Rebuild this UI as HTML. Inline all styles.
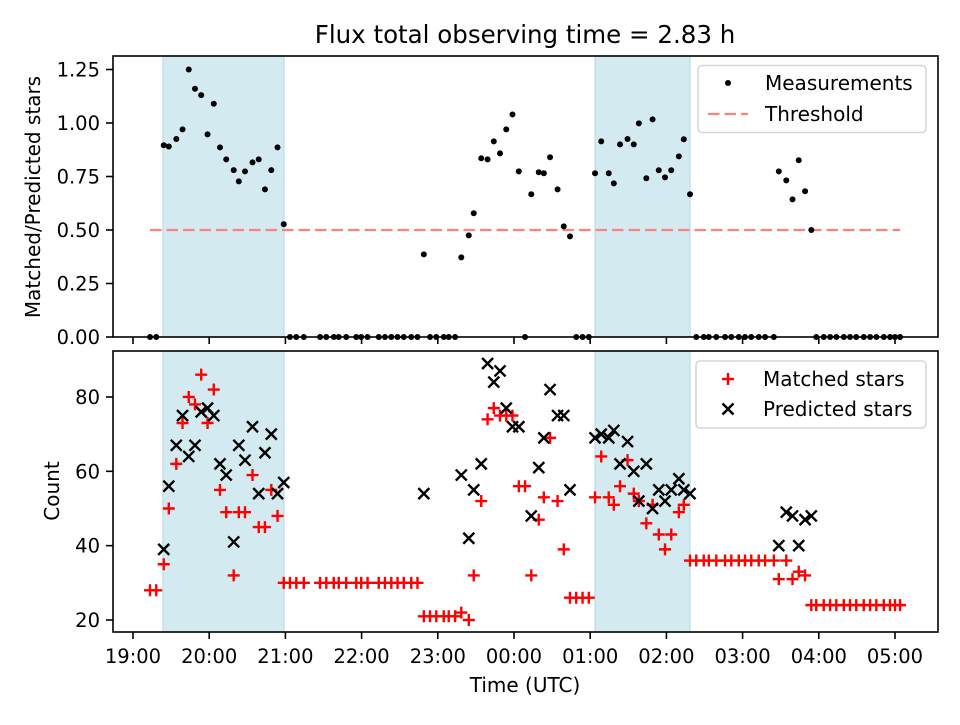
<!DOCTYPE html>
<html><head><meta charset="utf-8"><style>
html,body{margin:0;padding:0;background:#fff}
svg text{font-family:"DejaVu Sans","Liberation Sans",sans-serif;fill:#000}
</style></head><body>
<svg id="chart" width="960" height="720" viewBox="0 0 960 720" xmlns="http://www.w3.org/2000/svg">
<rect width="960" height="720" fill="#fff"/>
<g id="top"></g><g id="bot"></g>
</svg>
<script>
// minutes since 19:00 UTC
const times = [13.4,18.3,24.2,28.2,34.1,39,43.9,48.8,53.7,58.7,63.6,68.5,73.4,79.3,83.3,88.2,94.1,99,103.9,108.9,113.8,118.7,
123.6,128.6,134.5,147.3,152.2,158.1,162,167.9,175.8,179.7,184.7,193.5,198.4,203.4,208.3,213.2,219.1,224,
229,233.9,238.8,244.7,248.6,253.6,258.5,264.4,268.3,274.2,279.2,284.1,289,293.9,298.8,303.8,308.7,313.6,319.5,323.5,328.4,334.3,339.2,344.1,
349,354,358.9,363.8,368.7,374.6,378.6,383.5,389.4,394.3,398.3,404.2,409.1,414,418.9,423.8,429.8,433.7,438.6,
443.5,449.4,453.4,459.3,466.2,471.1,477,481.9,486.8,492.7,497.7,504.6,508.5,514.4,519.3,524.2,529.2,534.1,
538,543.9,548.9,553.8,559.7,564.6,569.5,575.4,580.4,585.3,591.2,596.1,600,604];
const matched = [28,28,35,50,62,73,80,78,86,73,82,55,49,32,49,49,59,45,45,55,48,30,
30,30,30,30,30,30,30,30,30,30,30,30,30,30,30,30,30,30,
21,21,21,21,21,21,22,20,32,52,74,77,75,75,75,56,56,32,47,53,69,52,39,26,
26,26,26,53,64,53,51,56,63,54,52,46,51,43,39,43,49,51,36,
36,36,36,36,36,36,36,36,36,36,36,36,31,36,31,33,32,24,
24,24,24,24,24,24,24,24,24,24,24,24,24,24];
const predicted = [null,null,39,56,67,75,64,67,76,77,75,62,59,41,67,63,72,54,65,70,54,57,
null,null,null,null,null,null,null,null,null,null,null,null,null,null,null,null,null,null,
54,null,null,null,null,null,59,42,55,62,89,84,87,77,72,72,null,48,61,69,82,75,75,55,
null,null,null,69,70,69,71,62,68,60,52,62,50,55,52,55,58,55,54,
null,null,null,null,null,null,null,null,null,null,null,null,40,49,48,40,47,48,
null,null,null,null,null,null,null,null,null,null,null,null,null,null];
const ratio = [0,0,0.896,0.89,0.925,0.97,1.25,1.16,1.13,0.947,1.09,0.886,0.83,0.78,0.727,0.774,0.816,0.83,0.69,0.78,0.886,0.527,
0,0,0,0,0,0,0,0,0,0,0,0,0,0,0,0,0,0,
0.386,0,0,0,0,0,0.372,0.475,0.578,0.835,0.83,0.914,0.858,0.97,1.04,0.774,0,0.667,0.77,0.765,0.84,0.69,0.517,0.47,
0,0,0,0.765,0.914,0.765,0.718,0.9,0.925,0.9,0.998,0.742,1.017,0.779,0.746,0.779,0.844,0.924,0.667,
0,0,0,0,0,0,0,0,0,0,0,0,0.774,0.732,0.643,0.826,0.681,0.5,
0,0,0,0,0,0,0,0,0,0,0,0,0,0];
const threshold = 0.5;
const thresholdSpan = [13.4,604];
const shadedSpans = [[23.6,118.9],[363.8,438.6]];
const xTickLabels = ["19:00","20:00","21:00","22:00","23:00","00:00","01:00","02:00","03:00","04:00","05:00"];
const topTicks = [0,0.25,0.5,0.75,1.0,1.25];
const botTicks = [20,40,60,80];

const NS="http://www.w3.org/2000/svg";
const L=113,R=938;
const xS=m=>133+m*1.27;
const topY=v=>337-v*214;
const botY=v=>620-(v-20)*3.717;
function mk(tag,attrs,parent){const e=document.createElementNS(NS,tag);for(const k in attrs)e.setAttribute(k,attrs[k]);parent.appendChild(e);return e;}
const gT=document.getElementById('top'), gB=document.getElementById('bot');

function panel(g,y0,y1,yTicks,yF,fmt,showX){
  shadedSpans.forEach(s=>{
    const r=mk('rect',{x:xS(s[0]),y:y0,width:xS(s[1])-xS(s[0]),height:y1-y0,fill:'#d4eaf1',stroke:'#bcdbe5','stroke-width':1.2},g);
    
    
  });
  xTickLabels.forEach((t,i)=>{
    const x=xS(i*60);
    const tk=mk('line',{x1:x,x2:x,y1:y1,y2:y1+7,stroke:'#000','stroke-width':1.6},g);
    
    
    if(showX){const tx=mk('text',{x:x,y:y1+31,'text-anchor':'middle','font-size':'19.5'},g);tx.textContent=t;
      
      }
  });
  yTicks.forEach(v=>{
    const y=yF(v);
    const tk=mk('line',{x1:L-7,x2:L,y1:y,y2:y,stroke:'#000','stroke-width':1.6},g);
    
    
    const tx=mk('text',{x:L-13,y:y+7,'text-anchor':'end','font-size':'19.5'},g);tx.textContent=fmt(v);
    
    
  });
}
panel(gT,56,337,topTicks,topY,v=>v.toFixed(2),false);
panel(gB,351,632,botTicks,botY,v=>String(v),true);

const th=mk('line',{x1:xS(thresholdSpan[0]),x2:xS(thresholdSpan[1]),y1:topY(threshold),y2:topY(threshold),stroke:'#ff8080','stroke-width':2.3,'stroke-dasharray':'11.5 5'},gT);


times.forEach((t,i)=>{
  const c=mk('circle',{cx:xS(t),cy:topY(ratio[i]),r:3,fill:'#000'},gT);
  
  
});
times.forEach((t,i)=>{
  const x=xS(t),y=botY(matched[i]);
  const p=mk('path',{d:`M${x-6},${y}H${x+6}M${x},${y-6}V${y+6}`,stroke:'#ff0000','stroke-width':2.4,fill:'none'},gB);
  
  
});
times.forEach((t,i)=>{
  if(predicted[i]===null)return;
  const x=xS(t),y=botY(predicted[i]);
  const p=mk('path',{d:`M${x-5.5},${y-5.5}L${x+5.5},${y+5.5}M${x-5.5},${y+5.5}L${x+5.5},${y-5.5}`,stroke:'#000','stroke-width':2.4,fill:'none'},gB);
  
  
});
[[gT,56,337],[gB,351,632]].forEach(a=>{
  const f=mk('rect',{x:L,y:a[1],width:R-L,height:a[2]-a[1],fill:'none',stroke:'#000','stroke-width':1.6},a[0]);
  
  
});
</script>
<svg style="position:absolute;left:0;top:0" width="960" height="720">
<text x="525" y="43" text-anchor="middle" font-size="24.5">Flux total observing time = 2.83 h</text>
<text transform="translate(40,197) rotate(-90)" text-anchor="middle" font-size="20">Matched/Predicted stars</text>
<text transform="translate(59,491) rotate(-90)" text-anchor="middle" font-size="20">Count</text>
<text x="525" y="692" text-anchor="middle" font-size="20">Time (UTC)</text>
<g>
<rect x="698" y="65.5" width="228" height="67" rx="4" fill="#fff" fill-opacity="0.8" stroke="#d6d6d6" stroke-width="1.6"/>
<circle cx="728" cy="83" r="3" fill="#000"/>
<text x="765" y="90" font-size="20">Measurements</text>
<line x1="708" x2="748" y1="114" y2="114" stroke="#ff8080" stroke-width="2.3" stroke-dasharray="11.5 5"/>
<text x="765" y="121" font-size="20">Threshold</text>
</g>
<g>
<rect x="696" y="361" width="230" height="67" rx="4" fill="#fff" fill-opacity="0.8" stroke="#d6d6d6" stroke-width="1.6"/>
<path d="M722,379H734M728,373V385" stroke="#f00" stroke-width="2.4"/>
<text x="763" y="386" font-size="20">Matched stars</text>
<path d="M722.5,403.5L733.5,414.5M722.5,414.5L733.5,403.5" stroke="#000" stroke-width="2.4"/>
<text x="763" y="416" font-size="20">Predicted stars</text>
</g>
</svg>
</body></html>
